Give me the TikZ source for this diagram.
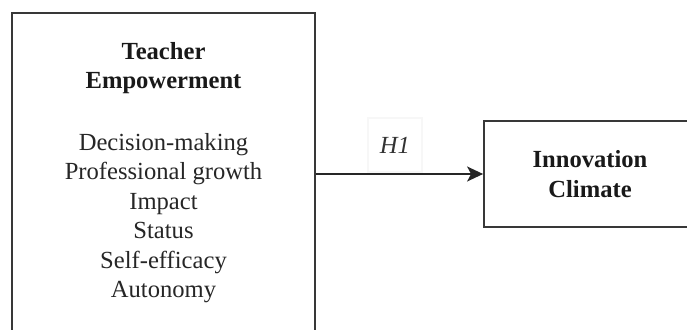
\documentclass[tikz,border=0pt]{standalone}
\usepackage{fontspec}
\setmainfont{Liberation Serif}
\usetikzlibrary{positioning, arrows.meta}

\newcommand{\diagsize}{\fontsize{24.6}{29.5}\selectfont}

\tikzset{
  boxline/.style={draw=black!78, line width=1.8pt},
  title/.style={font=\diagsize\bfseries, align=center, inner sep=0pt, text=black!90},
  items/.style={font=\diagsize, align=center, inner sep=0pt, text=black!85},
}

\begin{document}
\begin{tikzpicture}[>={Stealth[length=16pt, width=15pt, inset=4pt]}, x=1pt, y=1pt]
            \clip (0,0) rectangle (687,329);
            % left box (runs past the bottom edge)
            \node[boxline, minimum width=303pt, minimum height=340pt] (teacher) at (163.5,146) {};
            \node[title, anchor=north] (teachertitle) at ([yshift=-30pt]teacher.north) {Teacher\\Empowerment};
            \node[items, anchor=north] (dimensions) at ([yshift=-121pt]teacher.north)
                {Decision-making\\Professional growth\\Impact\\Status\\Self-efficacy\\Autonomy};
            % right box (runs past the right edge)
            \node[boxline, title, inner sep=0pt, minimum width=212pt, minimum height=106pt] (climate) at (590,155) {Innovation\\Climate};
            \draw[->, draw=black!85, line width=1.8pt] (teacher.east |- climate.west) -- (climate.west)
                node[pos=0.473, above=1pt, draw=black!3, minimum width=54pt, minimum height=54pt,
                     font=\diagsize\itshape, text=black!80] (hyp) {H1};
\end{tikzpicture}
\end{document}
